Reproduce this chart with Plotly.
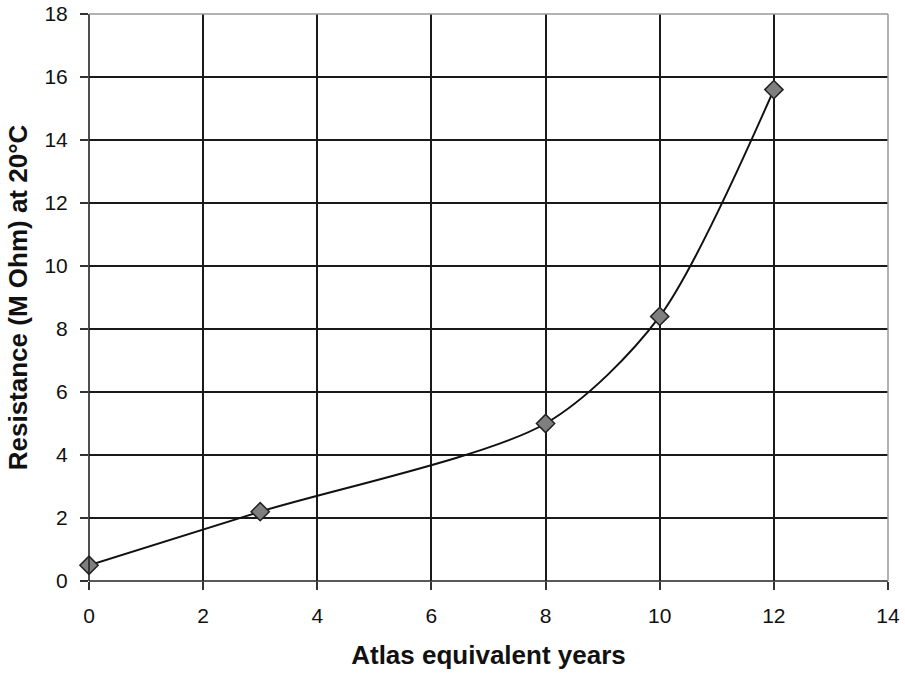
import plotly.graph_objects as go

years = [0, 3, 8, 10, 12]
resistance = [0.5, 2.2, 5.0, 8.4, 15.6]

FONT = "Liberation Sans, Arial, sans-serif"

fig = go.Figure()
fig.add_trace(go.Scatter(
    x=years, y=resistance, mode="lines+markers",
    line=dict(color="#111111", width=2, shape="spline", smoothing=0.8),
    marker=dict(symbol="diamond", size=14, color="#7f7f7f",
                line=dict(color="#222222", width=1.5)),
    showlegend=False, cliponaxis=False,
))

axis_common = dict(
    showgrid=True, gridcolor="#1a1a1a", gridwidth=1.6,
    ticks="outside", ticklen=8, tickcolor="#333333", tickwidth=1.5,
    showline=False, zeroline=False, automargin=False,
    ticklabeloverflow="allow",
    tickfont=dict(family=FONT, size=21, color="#111111"),
)
fig.update_xaxes(range=[0, 14], dtick=2, tick0=0, ticklabelstandoff=8,
                 title=dict(text="<b>Atlas equivalent years</b>",
                            font=dict(family=FONT, size=26, color="#111111"),
                            standoff=19),
                 **axis_common)
fig.update_yaxes(range=[0, 18], dtick=2, tick0=0, ticklabelstandoff=8,
                 title=dict(text="<b>Resistance (M Ohm) at 20°C</b>",
                            font=dict(family=FONT, size=26, color="#111111"),
                            standoff=9),
                 **axis_common)

fig.add_shape(type="line", xref="paper", yref="paper", x0=0, x1=0, y0=0, y1=1,
              line=dict(color="#222222", width=1.6))
fig.add_shape(type="line", xref="paper", yref="paper", x0=0, x1=1, y0=0, y1=0,
              line=dict(color="#222222", width=1.6))
fig.add_shape(type="line", xref="paper", yref="paper", x0=1, x1=1, y0=0, y1=1,
              line=dict(color="#999999", width=1.5))
fig.add_shape(type="line", xref="paper", yref="paper", x0=0, x1=1, y0=1, y1=1,
              line=dict(color="#999999", width=1.5))

fig.update_layout(
    width=905, height=673,
    margin=dict(l=89, r=17, t=14, b=92),
    plot_bgcolor="white", paper_bgcolor="white",
    font=dict(family=FONT),
)
fig.write_html("out.html", config={"displayModeBar": False},
               post_script="document.body.style.margin='0';document.body.style.overflow='hidden';")
